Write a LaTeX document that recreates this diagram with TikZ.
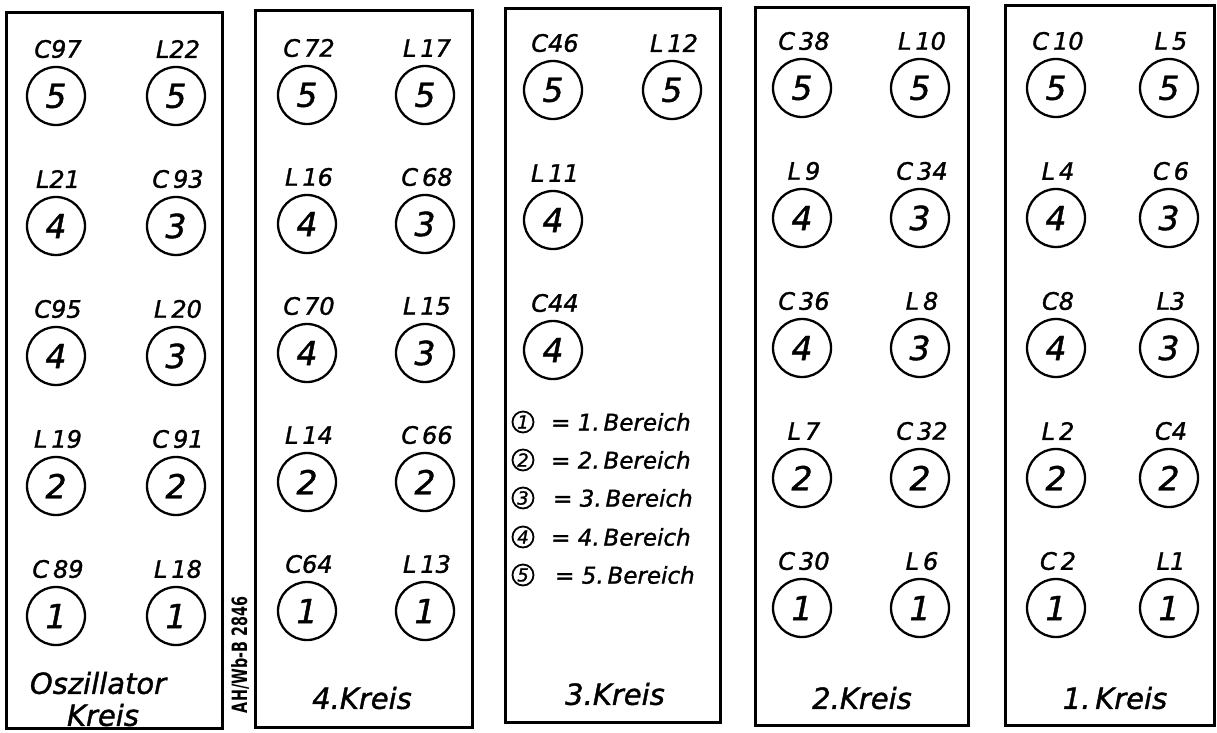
\documentclass[tikz,border=0pt]{standalone}
\usepackage{fontspec}
\usepackage{graphicx}
\setmainfont{DejaVu Sans}[ItalicFeatures={FakeBold=1.3}]
\newfontfamily\stampfont{DejaVu Sans Condensed}
\newcommand\pcomp[5]{%
  \node[ring] (#1) at (#2,#3) {#4};
  \node[lbl] (#1l) at (#2+2,#3-47) {#5};}
\begin{document}
\begin{tikzpicture}[x=1pt,y=-1pt,
  panel/.style={draw, line width=3pt},
  ring/.style={circle, draw, line width=2.3pt, minimum size=58pt, inner sep=0pt,
    font=\fontsize{33}{33}\selectfont\itshape},
  lbl/.style={inner sep=0pt, font=\fontsize{24}{24}\selectfont\itshape},
  ttl/.style={inner sep=0pt, font=\fontsize{29}{30}\selectfont\itshape},
  keyring/.style={circle, draw, line width=1.8pt, minimum size=21pt, inner sep=0pt,
    font=\fontsize{18}{18}\selectfont\itshape},
  keytxt/.style={anchor=west, inner sep=0pt, font=\fontsize{23}{23}\selectfont\itshape}]
\useasboundingbox (0,0) rectangle (1217,732);
\fill[white] (0,0) rectangle (1217,732);
% panels
\draw[panel] (6,12) rectangle (222,728);
\draw[panel] (255,10) rectangle (472,727);
\draw[panel] (505,8) rectangle (720,722);
\draw[panel] (755,7) rectangle (968,725);
\draw[panel] (1005,5) rectangle (1214,725);
% panel 1: Oszillator Kreis
\pcomp{a1}{56}{96}{5}{C97}
\pcomp{a2}{176}{96}{5}{L22}
\pcomp{a3}{56}{226}{4}{L21}
\pcomp{a4}{176}{226}{3}{C\,93}
\pcomp{a5}{56}{356}{4}{C95}
\pcomp{a6}{176}{356}{3}{L\,20}
\pcomp{a7}{56}{486}{2}{L\,19}
\pcomp{a8}{176}{486}{2}{C\,91}
\pcomp{a9}{56}{616}{1}{C\,89}
\pcomp{a10}{176}{616}{1}{L\,18}
\node[ttl] (t1a) at (98,683) {Oszillator};
\node[ttl] (t1b) at (103,715) {Kreis};
% panel 2: 4. Kreis
\pcomp{b1}{307}{95}{5}{C\,72}
\pcomp{b2}{425}{95}{5}{L\,17}
\pcomp{b3}{307}{224}{4}{L\,16}
\pcomp{b4}{425}{224}{3}{C\,68}
\pcomp{b5}{307}{353}{4}{C\,70}
\pcomp{b6}{425}{353}{3}{L\,15}
\pcomp{b7}{307}{482}{2}{L\,14}
\pcomp{b8}{425}{482}{2}{C\,66}
\pcomp{b9}{307}{611}{1}{C64}
\pcomp{b10}{425}{611}{1}{L\,13}
\node[ttl] (t2) at (362,698) {4.Kreis};
% panel 3: 3. Kreis
\pcomp{c1}{553}{90}{5}{C46}
\pcomp{c2}{672}{90}{5}{L\,12}
\pcomp{c3}{553}{220}{4}{L\,11}
\pcomp{c4}{553}{350}{4}{C44}
\node[keyring] (k1) at (523,422) {1};
\node[keytxt] (k1t) at (551,422) {= 1.\,Bereich};
\node[keyring] (k2) at (523,460) {2};
\node[keytxt] (k2t) at (551,460) {= 2.\,Bereich};
\node[keyring] (k3) at (523,498) {3};
\node[keytxt] (k3t) at (553,498) {= 3.\,Bereich};
\node[keyring] (k4) at (523,537) {4};
\node[keytxt] (k4t) at (551,537) {= 4.\,Bereich};
\node[keyring] (k5) at (523,575) {5};
\node[keytxt] (k5t) at (555,575) {= 5.\,Bereich};
\node[ttl] (t3) at (615,694) {3.Kreis};
% panel 4: 2. Kreis
\pcomp{d1}{802}{88}{5}{C\,38}
\pcomp{d2}{920}{88}{5}{L\,10}
\pcomp{d3}{802}{218}{4}{L\,9}
\pcomp{d4}{920}{218}{3}{C\,34}
\pcomp{d5}{802}{348}{4}{C\,36}
\pcomp{d6}{920}{348}{3}{L\,8}
\pcomp{d7}{802}{478}{2}{L\,7}
\pcomp{d8}{920}{478}{2}{C\,32}
\pcomp{d9}{802}{608}{1}{C\,30}
\pcomp{d10}{920}{608}{1}{L\,6}
\node[ttl] (t4) at (862,698) {2.Kreis};
% panel 5: 1. Kreis
\pcomp{e1}{1056}{88}{5}{C\,10}
\pcomp{e2}{1169}{88}{5}{L\,5}
\pcomp{e3}{1056}{218}{4}{L\,4}
\pcomp{e4}{1169}{218}{3}{C\,6}
\pcomp{e5}{1056}{348}{4}{C8}
\pcomp{e6}{1169}{348}{3}{L3}
\pcomp{e7}{1056}{478}{2}{L\,2}
\pcomp{e8}{1169}{478}{2}{C4}
\pcomp{e9}{1056}{608}{1}{C\,2}
\pcomp{e10}{1169}{608}{1}{L1}
\node[ttl] (t5) at (1115,698) {1.\,Kreis};
% drawing number
\node[rotate=90, inner sep=0pt, font=\stampfont\bfseries] (stamp) at (240,655)
  {\resizebox{116pt}{16pt}{AH/Wb-B 2846}};
\end{tikzpicture}
\end{document}
